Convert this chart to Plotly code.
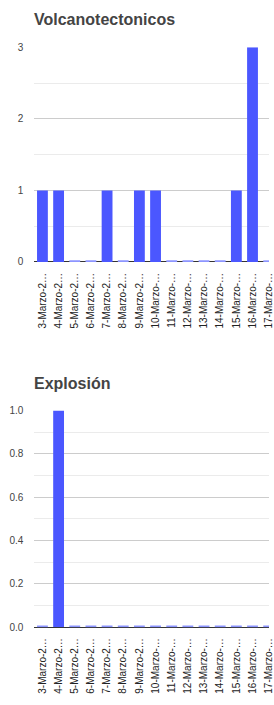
import plotly.graph_objects as go

fechas = [f"{d}-Marzo-2021" for d in range(3, 18)]
volcanotectonicos = [1, 1, 0, 0, 1, 0, 1, 1, 0, 0, 0, 0, 1, 3, 0]
explosion = [0, 1, 0, 0, 0, 0, 0, 0, 0, 0, 0, 0, 0, 0, 0]

etiquetas = [f[:9] + "…" for f in fechas]

W, H = 274, 705
BLUE = "#4b57ff"
ZERO_BLUE = "#8d95ff"

def py(px):
    return 1 - px / H

fig = go.Figure()

charts = [
    ("Volcanotectonicos", volcanotectonicos, 3, 1, 0.5, "x", "y", (43, 261), "%d"),
    ("Explosión", explosion, 1, 0.2, 0.1, "x2", "y2", (412, 632), ".1f"),
]

for i, (title, vals, ymax, dt, mdt, xa, ya, (top, bot), fmt) in enumerate(charts):
    fig.add_trace(go.Bar(x=fechas, y=vals, marker=dict(color=BLUE, line=dict(width=0)),
                         xaxis=xa, yaxis=ya, showlegend=False, hoverinfo="x+y"))
    eps = ymax / (bot - top) * 1.5
    fig.add_trace(go.Bar(x=fechas, y=[eps if v == 0 else None for v in vals],
                         marker=dict(color=ZERO_BLUE, line=dict(width=0)),
                         xaxis=xa, yaxis=ya, showlegend=False, hoverinfo="skip"))
    suffix = "" if i == 0 else "2"
    fig.layout["xaxis" + suffix] = dict(
        domain=[35 / W, 1], anchor=ya, type="category",
        range=[-0.5, -0.5 + (W - 35) / 16.46],
        tickmode="array", tickvals=fechas, ticktext=etiquetas,
        tickangle=-90, tickfont=dict(family="Liberation Sans, Arial", size=10, color="#222"),
        showgrid=False, showline=False, ticks="", ticklabelstandoff=8,
    )
    fig.layout["yaxis" + suffix] = dict(
        domain=[py(bot), py(top)], anchor=xa, range=[0, ymax],
        dtick=dt, tick0=0, tickformat=fmt,
        tickfont=dict(family="Liberation Sans, Arial", size=10, color="#444"),
        showgrid=True, gridcolor="#cccccc", gridwidth=1,
        minor=dict(dtick=mdt, showgrid=True, gridcolor="#ebebeb", gridwidth=1),
        zeroline=True, zerolinecolor="#333333", zerolinewidth=1,
        showline=False, ticks="", ticklabelstandoff=10,
    )
    fig.add_annotation(text=f"<b>{title}</b>", xref="paper", yref="paper",
                       x=33 / W, y=py(top - 28), xanchor="left", yanchor="middle",
                       showarrow=False,
                       font=dict(family="Liberation Sans, Arial", size=16, color="#444"))

fig.update_layout(
    width=W, height=H, margin=dict(l=0, r=0, t=0, b=0),
    paper_bgcolor="white", plot_bgcolor="white",
    barmode="overlay", bargap=0.33,
)

fig.write_html("out.html", config={"displayModeBar": False},
               post_script="document.body.style.margin='0';document.body.style.overflow='hidden';")
